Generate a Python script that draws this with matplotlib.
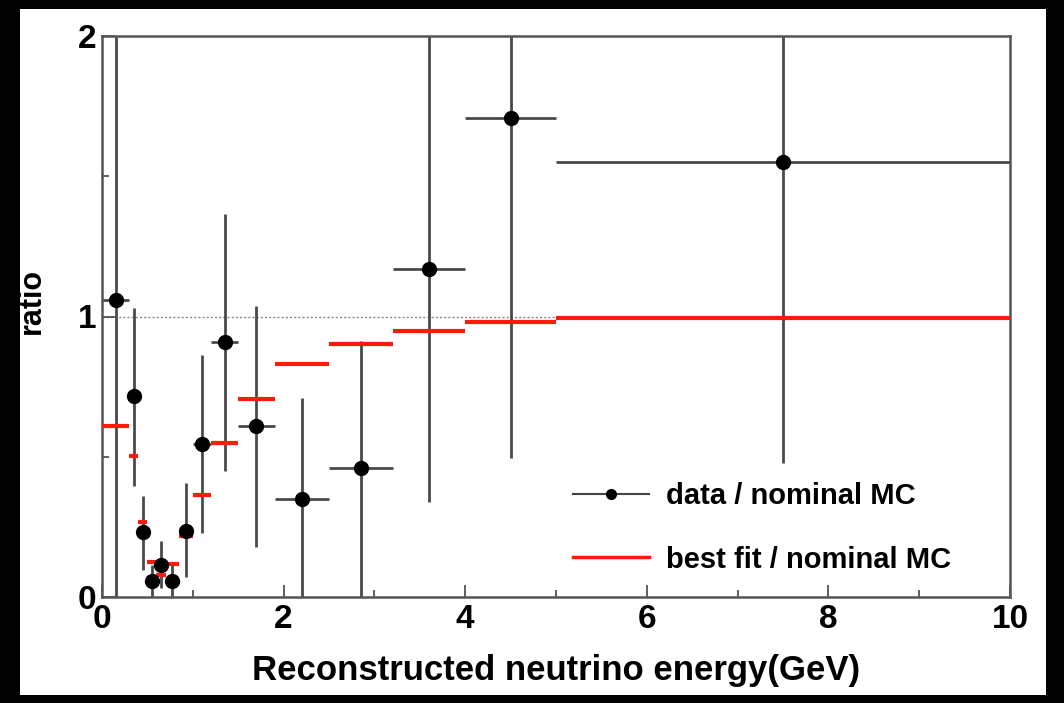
import matplotlib
matplotlib.use("Agg")
import matplotlib.pyplot as plt
import numpy as np
from matplotlib.lines import Line2D
from matplotlib.patches import Rectangle

# ---- data ----
bin_edges = [0.0, 0.3, 0.4, 0.5, 0.6, 0.7, 0.85, 1.0, 1.2, 1.5, 1.9, 2.5, 3.2, 4.0, 5.0, 10.0]
data_ratio = [1.06, 0.715, 0.231, 0.058, 0.114, 0.058, 0.237, 0.546, 0.909, 0.61, 0.35, 0.46, 1.168, 1.707, 1.55]
data_low = [0.0, 0.394, 0.096, 0.0, 0.032, 0.0, 0.073, 0.227, 0.448, 0.18, 0.0, 0.0, 0.34, 0.495, 0.477]
data_high = [2.3, 1.031, 0.361, 0.114, 0.2, 0.114, 0.406, 0.864, 1.364, 1.037, 0.71, 0.912, 2.3, 2.3, 2.3]
fit_ratio = [0.608, 0.501, 0.269, 0.124, 0.079, 0.118, 0.218, 0.364, 0.549, 0.707, 0.829, 0.902, 0.95, 0.981, 0.993]
x_ticks = [0, 2, 4, 6, 8, 10]
y_ticks = [0, 1, 2]

W, H = 1064, 703
fig = plt.figure(figsize=(W / 100, H / 100), dpi=100, facecolor="black")
fig.patches.append(Rectangle((20 / W, 8 / H), (1046 - 20) / W, (694 - 8) / H,
                             transform=fig.transFigure, facecolor="white",
                             edgecolor="none", zorder=-10))

L, R, T, B = 102, 1010, 36, 597
ax = fig.add_axes([L / W, 1 - B / H, (R - L) / W, (B - T) / H])
ax.set_facecolor("white")

edges = np.array(bin_edges)
centers = 0.5 * (edges[:-1] + edges[1:])
halfw = 0.5 * (edges[1:] - edges[:-1])
vals = np.array(data_ratio)
lo = vals - np.array(data_low)
hi = np.array(data_high) - vals

FONT = ["Liberation Sans", "DejaVu Sans"]

# reference line at 1
ax.axhline(1.0, color="#888888", lw=1.0, ls=(0, (1.5, 1.5)), zorder=1)

# best fit / nominal MC
ax.hlines(fit_ratio, edges[:-1], edges[1:], colors="#ff1a0a", lw=3, zorder=3)

# data / nominal MC
ax.errorbar(centers, vals, xerr=halfw, yerr=[lo, hi], fmt="none",
            ecolor="#4a4a4a", elinewidth=2, capsize=0, zorder=2)
ax.plot(centers, vals, "o", color="black", ms=10, zorder=4)

ax.set_xlim(0, 10)
ax.set_ylim(0, 2)
ax.set_xticks(x_ticks)
ax.set_xticks([1, 3, 5, 7, 9], minor=True)
ax.set_yticks(y_ticks)
ax.set_yticks([0.5, 1.5], minor=True)
ax.tick_params(which="major", direction="in", length=9, width=1.2, color="#444444",
               labelsize=24, pad=5)
ax.tick_params(axis="y", which="major", pad=4)
ax.tick_params(which="minor", direction="in", length=5, width=1.2, color="#444444")
for lab in ax.get_xticklabels() + ax.get_yticklabels():
    lab.set_fontweight("bold")
    lab.set_family(FONT)
for s in ax.spines.values():
    s.set_color("#555555")
    s.set_linewidth(1.8)

ax.set_xlabel("Reconstructed neutrino energy(GeV)", fontsize=25, fontweight="bold",
              family=FONT, labelpad=14)
ax.set_ylabel("ratio", fontsize=22, fontweight="bold", family=FONT)
ax.yaxis.set_label_coords((47 - L) / (R - L), (B - 301) / (B - T))

handles = [Line2D([0], [0], color="#444444", lw=1.5, marker="o", ms=7,
                  markerfacecolor="black", markeredgecolor="black"),
           Line2D([0], [0], color="#ff1a0a", lw=2.5)]
ax.legend(handles, ["data / nominal MC", "best fit / nominal MC"],
          loc="upper left", bbox_to_anchor=((573 - L) / (R - L), (B - 482) / (B - T)),
          frameon=False, prop={"family": FONT, "weight": "bold", "size": 21},
          handlelength=2.6, handletextpad=0.6, labelspacing=1.22,
          borderpad=0, borderaxespad=0)

fig.savefig("out.png", dpi=100, facecolor="black")
